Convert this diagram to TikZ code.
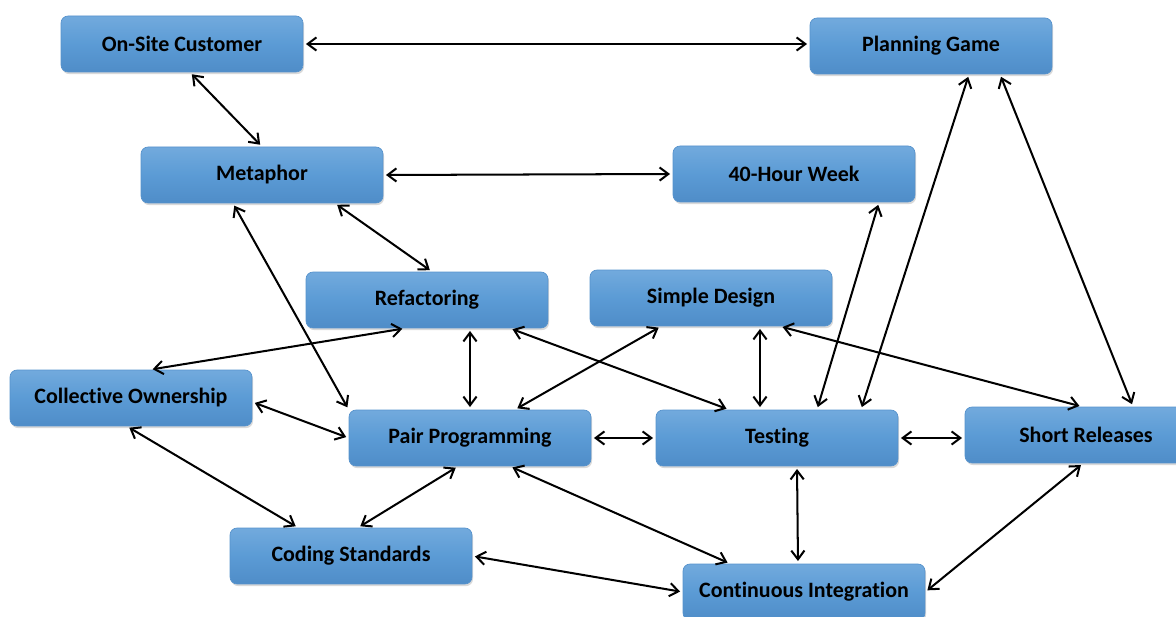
\documentclass[tikz,border=0pt]{standalone}
\usepackage{fontspec}
\setmainfont{Carlito}[Ligatures=NoCommon]
\usepackage{tikz}
\usetikzlibrary{arrows.meta, shadows, calc}

\definecolor{BoxBlue}{HTML}{5B9BD5}
\definecolor{BoxLight}{HTML}{72AADD}
\definecolor{BoxDark}{HTML}{4F8DC8}
\definecolor{BoxEdge}{HTML}{5692CC}

\begin{document}
\begin{tikzpicture}[x=0.02cm, y=-0.02cm,
  practice/.style={rectangle, rounded corners=4pt, draw=BoxEdge, thin,
    top color=BoxLight, bottom color=BoxDark, middle color=BoxBlue,
    minimum width=4.84cm, minimum height=1.12cm, inner sep=1pt,
    font=\fontsize{12.5}{14}\selectfont\bfseries,
    drop shadow={opacity=0.3, shadow xshift=0.6pt, shadow yshift=-1.2pt}},
  %
  link/.style={{Straight Barb[length=5pt,width=7.5pt]}-{Straight Barb[length=5pt,width=7.5pt]},
    line width=1.15pt, shorten <=1.5pt, shorten >=1.5pt}
  ]

  \useasboundingbox (0,0) rectangle (1176,617);

  % practices
  \node [practice] (osc) at (182,44) {On-Site Customer};
  \node [practice] (pgm) at (931,46) {Planning Game};
  \node [practice] (met) at (262,175) {Metaphor};
  \node [practice] (fhw) at (794,174) {40-Hour Week};
  \node [practice] (ref) at (427,300) {Refactoring};
  \node [practice] (sdn) at (711,298) {Simple Design};
  \node [practice] (cow) at (131,398) {Collective Ownership};
  \node [practice] (ppg) at (470,438) {Pair Programming};
  \node [practice] (tst) at (777,438) {Testing};
  \node [practice] (srl) at (1086,435) {Short Releases};
  \node [practice] (cst) at (351,556) {Coding Standards};
  \node [practice] (cin) at (804,592) {Continuous Integration};

  % links
  \draw [link] (osc.east) -- (pgm.west |- osc.east);
  \draw [link] ($(osc.south)+(8,0)$) -- (met.north);
  \draw [link] (met.east) -- (fhw.west);
  \draw [link] ($(met.south)+(73,0)$) -- ($(ref.north)+(5,0)$);
  \draw [link] ($(met.south)+(-29,0)$) -- (ppg.north west);
  \draw [link] ($(cow.north)+(19,0)$) -- ($(ref.south)+(-22,0)$);
  \draw [link] ($(ref.south)+(43,0)$) -- (ppg.north);
  \draw [link] ($(ref.south)+(83,0)$) -- ($(tst.north)+(-48,0)$);
  \draw [link] ($(sdn.south)+(-50,0)$) -- ($(ppg.north)+(45,0)$);
  \draw [link] ($(sdn.south)+(49,0)$) -- ($(tst.north)+(-17,0)$);
  \draw [link] ($(sdn.south)+(69,0)$) -- ($(srl.north)+(-4,0)$);
  \draw [link] ($(fhw.south)+(85,0)$) -- ($(tst.north)+(40,0)$);
  \draw [link] ($(pgm.south)+(38,0)$) -- ($(tst.north)+(84,0)$);
  \draw [link] ($(pgm.south)+(69,0)$) -- ($(srl.north)+(47,0)$);
  \draw [link] ($(cow.east)+(0,4)$) -- (ppg.west);
  \draw [link] ($(cow.south)+(-4,0)$) -- ($(cst.north)+(-53,0)$);
  \draw [link] (ppg.east) -- (tst.west);
  \draw [link] ($(ppg.south)+(-12,0)$) -- ($(cst.north)+(7,0)$);
  \draw [link] ($(ppg.south)+(40,0)$) -- ($(cin.north)+(-74,0)$);
  \draw [link] (tst.east) -- (srl.west |- tst.east);
  \draw [link] ($(tst.south)+(20,0)$) -- ($(cin.north)+(-6,0)$);
  \draw [link] ($(srl.south)+(-3,0)$) -- (cin.east);
  \draw [link] (cst.east) -- (cin.west);

\end{tikzpicture}
\end{document}
